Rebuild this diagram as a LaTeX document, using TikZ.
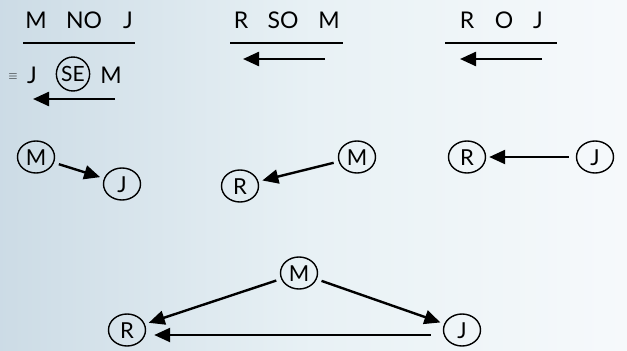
\documentclass[tikz,border=0pt]{standalone}
\usepackage{fontspec}
\setmainfont{Lato}
\usetikzlibrary{shapes.geometric,arrows.meta,calc}
\definecolor{bgleft}{rgb}{0.80,0.86,0.90}
\definecolor{bgmid}{rgb}{0.91,0.945,0.96}
\definecolor{bgright}{rgb}{0.965,0.978,0.986}
\begin{document}
\begin{tikzpicture}[x=1pt,y=-1pt,
  lab/.style={font=\fontsize{23}{25}\selectfont, anchor=base, inner sep=0pt},
  ent/.style={draw, ellipse, line width=1.4pt, minimum width=37pt, minimum height=32pt,
    inner sep=0pt, text height=16pt, text depth=0pt, font=\fontsize{22}{24}\selectfont},
  arr/.style={line width=2.4pt, -{Triangle[length=16pt,width=14pt]}, shorten >=4pt, shorten <=5pt},
  freearr/.style={line width=2.4pt, -{Triangle[length=16pt,width=14pt]}},
  rulel/.style={line width=1.8pt}]
\useasboundingbox (0,0) rectangle (627,351);
\shade[left color=bgleft, right color=bgright, middle color=bgmid] (0,0) rectangle (627,351);
% ---------- top left ----------
\node[lab] (t1a) at (36,28) {M};
\node[lab] (t1b) at (84,28) {NO};
\node[lab] (t1c) at (128,28) {J};
\coordinate (r1a) at (23,43); \coordinate (r1b) at (135,43);
\draw[rulel] (r1a) -- (r1b);
\node[font=\fontsize{13}{14}\selectfont, inner sep=0pt] (eq) at (13,77) {$\equiv$};
\node[lab] (s1) at (32,83) {J};
\node[draw, ellipse, line width=1.4pt, minimum width=31pt, minimum height=34pt, inner sep=0pt,
  text height=15pt, text depth=0pt, font=\fontsize{21}{23}\selectfont] (se) at (73,74) {SE};
\node[lab] (s2) at (111,83) {M};
\coordinate (a1s) at (115,99); \coordinate (a1e) at (33,99);
\draw[freearr] (a1s) -- (a1e);
% ---------- top middle ----------
\node[lab] (t2a) at (241,28) {R};
\node[lab] (t2b) at (283,28) {SO};
\node[lab] (t2c) at (329,28) {M};
\coordinate (r2a) at (230,43); \coordinate (r2b) at (343,43);
\draw[rulel] (r2a) -- (r2b);
\coordinate (a2s) at (325,59); \coordinate (a2e) at (243,59);
\draw[freearr] (a2s) -- (a2e);
% ---------- top right ----------
\node[lab] (t3a) at (467,28) {R};
\node[lab] (t3b) at (504,28) {O};
\node[lab] (t3c) at (538,28) {J};
\coordinate (r3a) at (445,43); \coordinate (r3b) at (557,43);
\draw[rulel] (r3a) -- (r3b);
\coordinate (a3s) at (542,59); \coordinate (a3e) at (460,59);
\draw[freearr] (a3s) -- (a3e);
% ---------- middle row ----------
\node[ent] (m1) at (36,157) {M};
\node[ent] (j1) at (122,184) {J};
\draw[arr] (m1) -- (j1);
\node[ent] (m2) at (357,157) {M};
\node[ent] (r2) at (240,186) {R};
\draw[arr] (m2) -- (r2);
\node[ent] (r3) at (467,157) {R};
\node[ent] (j3) at (595,157) {J};
\draw[arr, shorten >=3pt, shorten <=7pt] (j3) -- (r3);
% ---------- bottom ----------
\node[ent] (m4) at (299,273) {M};
\node[ent] (r4) at (127,330) {R};
\node[ent] (j4) at (462,330) {J};
\draw[arr] (m4) -- (r4);
\draw[arr] (m4) -- (j4);
\draw[arr, shorten >=8pt, shorten <=12pt] ([yshift=-5pt]j4.west) -- ([yshift=-5pt]r4.east);
\end{tikzpicture}
\end{document}
